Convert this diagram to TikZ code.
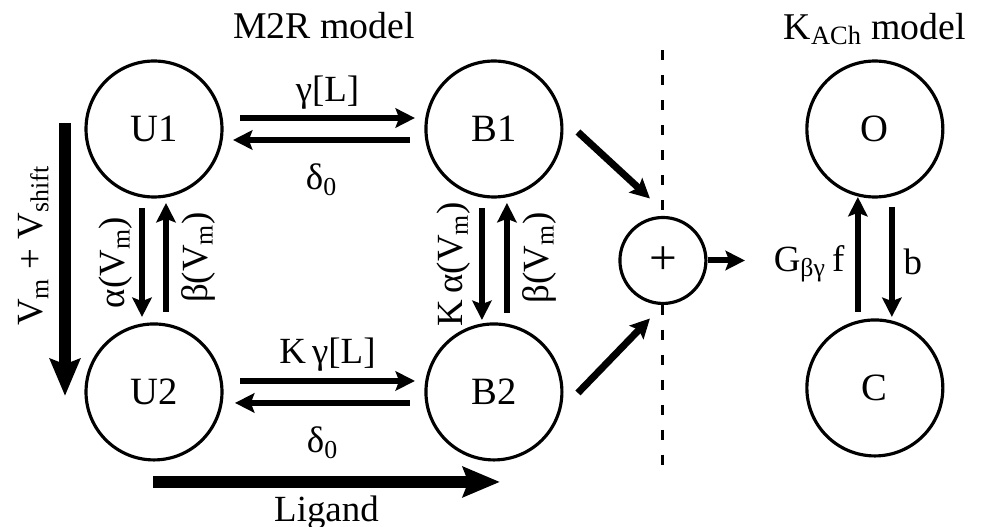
\documentclass[tikz,border=0pt]{standalone}
\usepackage{fontspec}
\setmainfont{Liberation Serif}
\usepackage{tikz}
\usetikzlibrary{arrows.meta, positioning, calc}

\begin{document}
\begin{tikzpicture}[
  x=0.02cm, y=-0.02cm,
  on grid,
  state/.style={circle, draw=black, line width=1.8pt, minimum size=2.72cm, inner sep=0pt, fill=white, font=\fontsize{22}{26}\selectfont},
  junction/.style={circle, draw=black, line width=1.8pt, minimum size=1.72cm, inner sep=0pt, fill=white, font=\fontsize{28}{32}\selectfont},
  title/.style={font=\fontsize{21.5}{26}\selectfont},
  rate/.style={font=\fontsize{21}{25}\selectfont, inner sep=2pt},
  arrow/.style={line width=3.4pt, -{Stealth[length=11pt, width=11pt, inset=2pt]}},
  bigarrow/.style={line width=6.5pt, -{Stealth[length=21pt, width=17pt, inset=3pt]}},
  divider/.style={line width=1.7pt, dash pattern=on 5.7pt off 8.5pt}
]
\useasboundingbox (0,0) rectangle (985,527);
\node (u1) [state] at (154,129) {U1};
\node (b1) [state, right=6.8cm of u1] {B1};
\node (u2) [state, below=5.26cm of u1] {U2};
\node (b2) [state, below=5.26cm of b1] {B2};
\node (sum) [junction] at ($(b1)!0.5!(b2)+(169,0)$) {+};
\node (open) [state, right=7.62cm of b1] {O};
\node (closed) [state, below=5.18cm of open] {C};
\node (m2rtitle) [title] at ($(u1)!0.5!(b1)+(0,-103)$) {M2R model};
\node (kachtitle) [title, above=2.0cm of open] {K\textsubscript{ACh} model};
\coordinate (gin) at ($(sum)+(82,0)$);
\draw [divider] ($(sum)+(0,-210)$) -- (sum.north);
\draw [divider] (sum.south) -- ($(sum)+(0,210)$);
\draw [arrow] ($(u1)+(86,-11)$) -- node[rate, above=1.5pt] {γ[L]} ($(b1)+(-79,-11)$);
\draw [arrow] ($(b1)+(-84,11)$) -- node[rate, below=10pt] {δ\textsubscript{0}} ($(u1)+(79,11)$);
\draw [arrow] ($(u2)+(86,-11)$) -- node[rate, above=1.5pt] {K\,γ[L]} ($(b2)+(-79,-11)$);
\draw [arrow] ($(b2)+(-84,11)$) -- node[rate, below=10pt] {δ\textsubscript{0}} ($(u2)+(81,11)$);
\draw [arrow] ($(u1)+(-12,79)$) -- node[rate, rotate=90, anchor=south, inner sep=4pt] {α(V\textsubscript{m})} ($(u2)+(-12,-75)$);
\draw [arrow] ($(u2)+(12,-80)$) -- node[rate, rotate=90, anchor=north, inner sep=7pt] {β(V\textsubscript{m})} ($(u1)+(12,74)$);
\draw [arrow] ($(b1)+(-12,79)$) -- node[rate, rotate=90, anchor=south, inner sep=5pt] {K\,α(V\textsubscript{m})} ($(b2)+(-12,-72)$);
\draw [arrow] ($(b2)+(13,-79)$) -- node[rate, rotate=90, anchor=north, inner sep=7pt] {β(V\textsubscript{m})} ($(b1)+(13,74)$);
\draw [arrow, line width=4pt] ($(b1)+(84,3)$) -- ($(sum)+(-13,-62)$);
\draw [arrow, line width=4pt] ($(b2)+(84,1)$) -- ($(sum)+(-13,58)$);
\draw [arrow] (sum) -- (gin);
\draw [arrow] ($(closed)+(-17,-76)$) -- node[rate, pos=0.42, left=4pt] {G\textsubscript{βγ}\,f} ($(open)+(-17,68)$);
\draw [arrow] ($(open)+(17,78)$) -- node[rate, right=3pt] {b} ($(closed)+(17,-71)$);
\draw [bigarrow] ($(u1)+(-89,-6)$) -- node[rate, pos=0.45, rotate=90, anchor=south, inner sep=6pt] {V\textsubscript{m} + V\textsubscript{shift}} ($(u2)+(-89,4)$);
\draw [bigarrow] ($(u2)+(-1,90)$) -- node[rate, below=2.5pt] {Ligand} ($(b2)+(6,90)$);
\end{tikzpicture}
\end{document}
